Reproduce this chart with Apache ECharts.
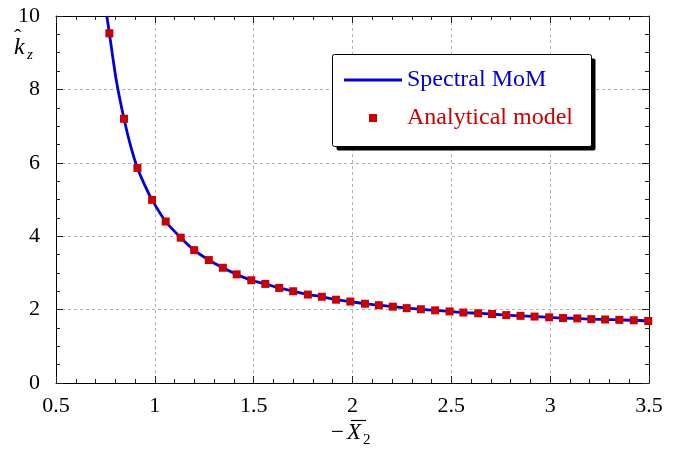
<!DOCTYPE html>
<html>
<head>
<meta charset="utf-8">
<script src="https://cdn.jsdelivr.net/npm/echarts@6/dist/echarts.min.js"></script>
<style>html,body{margin:0;padding:0;background:#fff}#c{width:688px;height:450px}</style>
</head>
<body>
<div id="c"></div>
<script>
// Analytical model markers (x = -X2 bar, y = k_z hat)
const markerX = [0.770,0.844,0.912,0.986,1.055,1.131,1.199,1.273,1.344,1.414,1.488,1.559,1.629,1.700,1.774,1.845,1.917,1.989,2.063,2.133,2.204,2.274,2.346,2.418,2.491,2.561,2.636,2.706,2.778,2.850,2.921,2.995,3.065,3.137,3.208,3.278,3.350,3.423,3.496];
const markerY = [9.53,7.20,5.86,4.99,4.40,3.96,3.62,3.35,3.14,2.96,2.80,2.70,2.59,2.50,2.41,2.35,2.27,2.22,2.16,2.12,2.08,2.04,2.01,1.98,1.95,1.92,1.90,1.88,1.85,1.83,1.81,1.79,1.77,1.76,1.74,1.73,1.72,1.71,1.69];
// Spectral MoM curve samples
const curveX = [0.757,0.770,0.805,0.844,0.878,0.912,0.950,0.986,1.055,1.131,1.199,1.273,1.344,1.414,1.488,1.559,1.629,1.700,1.774,1.845,1.917,1.989,2.063,2.133,2.204,2.274,2.346,2.418,2.491,2.561,2.636,2.706,2.778,2.850,2.921,2.995,3.065,3.137,3.208,3.278,3.350,3.423,3.500];
const curveY = [10.0,9.53,8.25,7.20,6.45,5.86,5.38,4.99,4.40,3.96,3.62,3.35,3.14,2.96,2.80,2.70,2.59,2.50,2.41,2.35,2.27,2.22,2.16,2.12,2.08,2.04,2.01,1.98,1.95,1.92,1.90,1.88,1.85,1.83,1.81,1.79,1.77,1.76,1.74,1.73,1.72,1.71,1.69];
const xTicks = {min:0.5, max:3.5, step:0.5};
const yTicks = {min:0, max:10, step:2};
const seriesNames = ['Spectral MoM','Analytical model'];

const FONT = '"Liberation Serif", "DejaVu Serif", serif';
const BLUE = '#0000dc';
const RED = '#cc0000';

const chart = echarts.init(document.getElementById('c'), null, {renderer:'canvas'});

const gridLine = {show:true, lineStyle:{color:'#b0b0b0', type:[3,3], width:1}};
const axLine = {show:true, onZero:false, lineStyle:{color:'#000', width:1}};
function xAx(pos, labels){
  return {type:'value', position:pos, min:xTicks.min, max:xTicks.max, interval:xTicks.step,
    axisLine:axLine,
    axisTick:{show:true, inside:true, length:7, lineStyle:{color:'#222'}},
    minorTick:{show:true, splitNumber:5, length:4, lineStyle:{color:'#222'}},
    axisLabel:{show:labels, color:'#000', fontFamily:FONT, fontSize:22, margin:12},
    splitLine: labels ? gridLine : {show:false}};
}
function yAx(pos, labels){
  return {type:'value', position:pos, min:yTicks.min, max:yTicks.max, interval:yTicks.step,
    axisLine:axLine,
    axisTick:{show:true, inside:true, length:7, lineStyle:{color:'#222'}},
    minorTick:{show:true, splitNumber:4, length:4, lineStyle:{color:'#222'}},
    axisLabel:{show:labels, color:'#000', fontFamily:FONT, fontSize:22, margin:16},
    splitLine: labels ? gridLine : {show:false}};
}

const lineData = curveX.map((x,i)=>[x, curveY[i]]);
const markData = markerX.map((x,i)=>[x, markerY[i]]);

chart.setOption({
  animation:false,
  backgroundColor:'#fff',
  grid:{left:56, right:39, top:16, bottom:67},
  xAxis:[xAx('bottom', true), xAx('top', false)],
  yAxis:[yAx('left', true), yAx('right', false)],
  legend:{
    orient:'vertical', left:344, top:68, itemWidth:58, itemHeight:8, itemGap:14, padding:0,
    z:60,
    textStyle:{fontFamily:FONT, fontSize:24},
    data:[
      {name:seriesNames[0], icon:'path://M0,0L58,0L58,3L0,3Z', itemStyle:{color:BLUE}, textStyle:{color:BLUE}},
      {name:seriesNames[1], icon:'path://M0,0L10,0L10,10L0,10Z', textStyle:{color:RED}}
    ]
  },
  graphic:[
    {type:'rect', z:50, shape:{x:336.5, y:58.5, width:259, height:92, r:2}, style:{fill:'#000'}},
    {type:'rect', z:51, shape:{x:332.5, y:54.5, width:259, height:92, r:2}, style:{fill:'#fff', stroke:'#000', lineWidth:1}},
    {type:'text', z:10, x:14, y:36, style:{text:'k', font:'italic 24px '+FONT, fill:'#000'}},
    {type:'text', z:10, x:14, y:27, style:{text:'ˆ', font:'22px '+FONT, fill:'#000'}},
    {type:'text', z:10, x:27, y:48, style:{text:'z', font:'italic 15px '+FONT, fill:'#000'}},
    {type:'text', z:10, x:331, y:421, style:{text:'−', font:'23px '+FONT, fill:'#000'}},
    {type:'text', z:10, x:347, y:421, style:{text:'X', font:'italic 23px '+FONT, fill:'#000'}},
    {type:'line', z:10, shape:{x1:351, y1:420.5, x2:366, y2:420.5}, style:{stroke:'#000', lineWidth:1.2}},
    {type:'text', z:10, x:363, y:433, style:{text:'2', font:'15px '+FONT, fill:'#000'}}
  ],
  series:[
    {name:seriesNames[0], type:'line', data:lineData, smooth:0.3, symbol:'none', clip:true,
     lineStyle:{color:BLUE, width:2.8}, itemStyle:{color:BLUE}, z:3},
    {name:seriesNames[1], type:'scatter', data:markData, symbol:'rect', symbolSize:8,
     itemStyle:{color:RED, opacity:1}, z:4}
  ]
});
</script>
</body>
</html>
